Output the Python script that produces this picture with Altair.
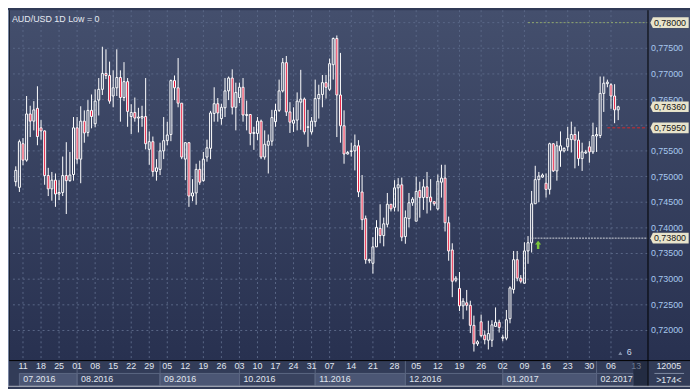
import altair as alt
import pandas as pd

# ---------------- data ----------------
idx = list(range(-1, 167))
opens = [0.7490, 0.7479, 0.7564, 0.7532, 0.7622, 0.7608, 0.7633, 0.7595, 0.7589, 0.7502,
         0.7476, 0.7493, 0.7466, 0.7469, 0.7502, 0.7492, 0.7504, 0.7595, 0.7534, 0.7608,
         0.7586, 0.7629, 0.7603, 0.7649, 0.7670, 0.7701, 0.7697, 0.7657, 0.7673, 0.7693,
         0.7654, 0.7685, 0.7617, 0.7625, 0.7614, 0.7614, 0.7617, 0.7553, 0.7568, 0.7510,
         0.7514, 0.7550, 0.7570, 0.7582, 0.7687, 0.7673, 0.7643, 0.7534, 0.7566, 0.7462,
         0.7468, 0.7514, 0.7492, 0.7538, 0.7555, 0.7623, 0.7642, 0.7613, 0.7634, 0.7667,
         0.7692, 0.7635, 0.7654, 0.7674, 0.7619, 0.7621, 0.7584, 0.7584, 0.7608, 0.7538,
         0.7561, 0.7569, 0.7607, 0.7629, 0.7667, 0.7722, 0.7626, 0.7604, 0.7610, 0.7645,
         0.7651, 0.7596, 0.7587, 0.7607, 0.7652, 0.7660, 0.7683, 0.7670, 0.7718, 0.7769,
         0.7659, 0.7599, 0.7544, 0.7549, 0.7550, 0.7560, 0.7470, 0.7418, 0.7336, 0.7331,
         0.7363, 0.7399, 0.7385, 0.7407, 0.7446, 0.7440, 0.7478, 0.7484, 0.7383, 0.7418,
         0.7449, 0.7413, 0.7473, 0.7459, 0.7480, 0.7460, 0.7451, 0.7437, 0.7489, 0.7497,
         0.7410, 0.7357, 0.7298, 0.7282, 0.7248, 0.7254, 0.7249, 0.7210, 0.7174, 0.7217,
         0.7191, 0.7181, 0.7181, 0.7208, 0.7216, 0.7185, 0.7185, 0.7223, 0.7280, 0.7338,
         0.7302, 0.7292, 0.7355, 0.7371, 0.7447, 0.7494, 0.7499, 0.7487, 0.7475, 0.7564,
         0.7511, 0.7550, 0.7550, 0.7558, 0.7572, 0.7582, 0.7571, 0.7535, 0.7546, 0.7558,
         0.7548, 0.7579, 0.7580, 0.7662, 0.7681, 0.7679, 0.7657, 0.7630]
highs = [0.7520, 0.7572, 0.7575, 0.7657, 0.7638, 0.7647, 0.7676, 0.7610, 0.7590, 0.7517,
         0.7509, 0.7506, 0.7493, 0.7539, 0.7567, 0.7548, 0.7616, 0.7616, 0.7637, 0.7629,
         0.7649, 0.7660, 0.7670, 0.7692, 0.7753, 0.7748, 0.7724, 0.7707, 0.7748, 0.7707,
         0.7723, 0.7692, 0.7641, 0.7654, 0.7634, 0.7638, 0.7692, 0.7588, 0.7578, 0.7534,
         0.7566, 0.7616, 0.7607, 0.7689, 0.7697, 0.7731, 0.7643, 0.7567, 0.7567, 0.7495,
         0.7525, 0.7531, 0.7548, 0.7572, 0.7628, 0.7674, 0.7653, 0.7642, 0.7692, 0.7695,
         0.7709, 0.7683, 0.7683, 0.7692, 0.7648, 0.7621, 0.7597, 0.7616, 0.7611, 0.7590,
         0.7582, 0.7630, 0.7642, 0.7689, 0.7731, 0.7735, 0.7645, 0.7635, 0.7664, 0.7708,
         0.7654, 0.7630, 0.7616, 0.7689, 0.7679, 0.7698, 0.7698, 0.7730, 0.7771, 0.7775,
         0.7741, 0.7629, 0.7550, 0.7566, 0.7582, 0.7571, 0.7503, 0.7424, 0.7340, 0.7382,
         0.7415, 0.7446, 0.7420, 0.7468, 0.7446, 0.7493, 0.7497, 0.7498, 0.7434, 0.7468,
         0.7460, 0.7500, 0.7490, 0.7495, 0.7509, 0.7495, 0.7452, 0.7504, 0.7523, 0.7523,
         0.7422, 0.7370, 0.7306, 0.7314, 0.7263, 0.7279, 0.7258, 0.7229, 0.7181, 0.7231,
         0.7200, 0.7219, 0.7220, 0.7245, 0.7221, 0.7192, 0.7240, 0.7286, 0.7355, 0.7355,
         0.7308, 0.7372, 0.7384, 0.7472, 0.7521, 0.7509, 0.7506, 0.7506, 0.7566, 0.7565,
         0.7569, 0.7588, 0.7557, 0.7597, 0.7607, 0.7597, 0.7588, 0.7566, 0.7552, 0.7569,
         0.7605, 0.7596, 0.7695, 0.7695, 0.7689, 0.7682, 0.7680, 0.7638]
lows = [0.7481, 0.7470, 0.7522, 0.7529, 0.7577, 0.7590, 0.7561, 0.7572, 0.7484, 0.7462,
        0.7453, 0.7441, 0.7454, 0.7462, 0.7427, 0.7490, 0.7492, 0.7525, 0.7487, 0.7566,
        0.7578, 0.7594, 0.7596, 0.7619, 0.7659, 0.7690, 0.7642, 0.7635, 0.7657, 0.7607,
        0.7647, 0.7597, 0.7583, 0.7607, 0.7586, 0.7597, 0.7553, 0.7523, 0.7500, 0.7492,
        0.7503, 0.7534, 0.7561, 0.7569, 0.7649, 0.7635, 0.7534, 0.7493, 0.7441, 0.7452,
        0.7445, 0.7484, 0.7490, 0.7529, 0.7534, 0.7607, 0.7607, 0.7601, 0.7616, 0.7649,
        0.7621, 0.7590, 0.7643, 0.7607, 0.7590, 0.7561, 0.7552, 0.7571, 0.7534, 0.7533,
        0.7506, 0.7560, 0.7597, 0.7626, 0.7664, 0.7618, 0.7585, 0.7587, 0.7590, 0.7591,
        0.7582, 0.7558, 0.7582, 0.7597, 0.7613, 0.7635, 0.7652, 0.7667, 0.7689, 0.7577,
        0.7566, 0.7525, 0.7543, 0.7539, 0.7512, 0.7460, 0.7396, 0.7330, 0.7331, 0.7311,
        0.7363, 0.7370, 0.7364, 0.7401, 0.7432, 0.7432, 0.7432, 0.7374, 0.7369, 0.7401,
        0.7443, 0.7413, 0.7420, 0.7435, 0.7428, 0.7434, 0.7443, 0.7434, 0.7459, 0.7393,
        0.7336, 0.7265, 0.7294, 0.7238, 0.7222, 0.7239, 0.7195, 0.7159, 0.7170, 0.7187,
        0.7173, 0.7163, 0.7168, 0.7208, 0.7196, 0.7179, 0.7181, 0.7214, 0.7272, 0.7296,
        0.7292, 0.7292, 0.7330, 0.7352, 0.7447, 0.7450, 0.7498, 0.7459, 0.7465, 0.7509,
        0.7492, 0.7519, 0.7547, 0.7550, 0.7547, 0.7516, 0.7521, 0.7511, 0.7544, 0.7527,
        0.7544, 0.7548, 0.7575, 0.7626, 0.7674, 0.7632, 0.7604, 0.7610]
closes = [0.7512, 0.7568, 0.7532, 0.7622, 0.7608, 0.7630, 0.7578, 0.7589, 0.7502, 0.7476,
          0.7493, 0.7466, 0.7469, 0.7502, 0.7492, 0.7503, 0.7595, 0.7534, 0.7608, 0.7585,
          0.7629, 0.7617, 0.7647, 0.7670, 0.7701, 0.7697, 0.7647, 0.7673, 0.7693, 0.7654,
          0.7685, 0.7627, 0.7625, 0.7614, 0.7616, 0.7617, 0.7564, 0.7568, 0.7510, 0.7517,
          0.7550, 0.7570, 0.7581, 0.7687, 0.7673, 0.7643, 0.7538, 0.7566, 0.7462, 0.7468,
          0.7514, 0.7489, 0.7534, 0.7556, 0.7624, 0.7642, 0.7624, 0.7635, 0.7667, 0.7692,
          0.7635, 0.7664, 0.7674, 0.7620, 0.7621, 0.7584, 0.7586, 0.7608, 0.7538, 0.7563,
          0.7569, 0.7615, 0.7629, 0.7667, 0.7722, 0.7626, 0.7606, 0.7610, 0.7647, 0.7651,
          0.7587, 0.7597, 0.7608, 0.7652, 0.7660, 0.7683, 0.7674, 0.7720, 0.7769, 0.7659,
          0.7599, 0.7544, 0.7547, 0.7550, 0.7560, 0.7470, 0.7416, 0.7338, 0.7338, 0.7363,
          0.7401, 0.7385, 0.7408, 0.7446, 0.7437, 0.7478, 0.7484, 0.7382, 0.7420, 0.7449,
          0.7456, 0.7471, 0.7459, 0.7480, 0.7459, 0.7451, 0.7447, 0.7491, 0.7497, 0.7410,
          0.7355, 0.7296, 0.7302, 0.7248, 0.7257, 0.7249, 0.7210, 0.7174, 0.7178, 0.7190,
          0.7182, 0.7194, 0.7211, 0.7216, 0.7206, 0.7187, 0.7221, 0.7283, 0.7338, 0.7302,
          0.7296, 0.7355, 0.7371, 0.7447, 0.7494, 0.7501, 0.7503, 0.7475, 0.7564, 0.7511,
          0.7560, 0.7560, 0.7555, 0.7574, 0.7582, 0.7571, 0.7535, 0.7548, 0.7548, 0.7548,
          0.7580, 0.7582, 0.7662, 0.7682, 0.7684, 0.7657, 0.7630, 0.7636]

day_pos = [1, 6, 11, 16, 21, 26, 31, 36, 41, 46, 51, 56, 61, 66, 71, 76, 81, 86,
           92, 98, 104, 110, 116, 122, 128, 134, 140, 146, 152, 158, 164]
day_lab = ["11", "18", "25", "01", "08", "15", "22", "29", "05", "12", "19", "26",
           "03", "10", "17", "24", "31", "07", "14", "21", "28", "05", "12", "19",
           "26", "02", "09", "16", "23", "30", "06"]
cut_day_pos = [171]
cut_day_lab = ["13"]

month_start = [0, 16, 39, 61, 82, 107, 134, 160]
month_end = [16, 39, 61, 82, 107, 134, 160, 170.2]
month_lab = ["07.2016", "08.2016", "09.2016", "10.2016", "11.2016", "12.2016",
             "01.2017", "02.2017"]

# horizontal grid levels
grid_prices = [0.720, 0.725, 0.730, 0.735, 0.740, 0.745, 0.750, 0.755, 0.760,
               0.765, 0.770, 0.775, 0.780]
# price-scale labels that are visible (0,76000 and 0,78000 sit under the marker boxes)
label_prices = [0.720, 0.725, 0.730, 0.735, 0.740, 0.745, 0.750, 0.755,
                0.765, 0.770, 0.775]
label_text = ["0,72000", "0,72500", "0,73000", "0,73500", "0,74000", "0,74500",
              "0,75000", "0,75500", "0,76500", "0,77000", "0,77500"]

marker_prices = [0.7800, 0.7636, 0.7595, 0.7380]
marker_lab = ["0,78000", "0,76360", "0,75950", "0,73800"]

level_prices = [0.7800, 0.7595, 0.7380]
level_start = [141, 163, 142]

arrow_i = [143.8]
arrow_p = [0.7367]

# ---------------- layout ----------------
W, H = 647, 354
TOT_W, TOT_H = 690, 381
FONT = "Liberation Sans"
GRID = "#5a6787"
RED = "#e8193c"

XS = alt.Scale(domain=[-1.787, 172.75], zero=False, nice=False)
YS = alt.Scale(domain=[0.71423, 0.78242], zero=False, nice=False)


def X(f):
    return alt.X(f, type="quantitative", scale=XS, axis=None)


def Y(f):
    return alt.Y(f, type="quantitative", scale=YS, axis=None)


one = pd.DataFrame({"a": [0]})

candles = pd.DataFrame({"i": idx, "o": opens, "hi": highs, "lo": lows, "c": closes})
candles["top"] = candles[["o", "c"]].max(axis=1)
candles["bot"] = candles[["o", "c"]].min(axis=1)

days = pd.DataFrame({"p": day_pos, "lab": day_lab})
cut_days = pd.DataFrame({"p": cut_day_pos, "lab": cut_day_lab})
months = pd.DataFrame({"start": month_start, "end": month_end, "lab": month_lab,
                       "k": list(range(len(month_lab)))})
grid_df = pd.DataFrame({"p": grid_prices})
ticks = pd.DataFrame({"p": label_prices, "lab": label_text})
markers = pd.DataFrame({"p": marker_prices, "lab": marker_lab})
arrow = pd.DataFrame({"i": arrow_i, "p": arrow_p})

grad = alt.LinearGradient(
    gradient="linear",
    stops=[alt.GradientStop(color="#444f6d", offset=0),
           alt.GradientStop(color="#283150", offset=1)],
    x1=0, x2=0, y1=0, y2=1)

layers = []

# background of plot + price scale
layers.append(alt.Chart(one).mark_rect(color=grad).encode(
    x=alt.value(0), x2=alt.value(TOT_W), y=alt.value(0), y2=alt.value(H)))
# bottom strip
layers.append(alt.Chart(one).mark_rect(color="#323c58").encode(
    x=alt.value(0), x2=alt.value(TOT_W), y=alt.value(H), y2=alt.value(TOT_H)))
# month boxes
layers.append(alt.Chart(months).mark_rect(stroke="#5c6783", strokeWidth=1).encode(
    x=X("start"), x2=alt.X2("end"), y=alt.value(367.5), y2=alt.value(380),
    fill=alt.condition(alt.datum.k % 2 == 0, alt.value("#4b5674"), alt.value("#39435f"))))
# dark cut column at the right end of the time scale
layers.append(alt.Chart(pd.DataFrame({"s": [170.2]})).mark_rect(color="#232c42").encode(
    x=X("s"), x2=alt.value(W), y=alt.value(H), y2=alt.value(TOT_H)))
# month separators
layers.append(alt.Chart(months[months["start"] > 0]).mark_rule(color="#5a6581").encode(
    x=X("start"), y=alt.value(H), y2=alt.value(TOT_H)))

# grid
layers.append(alt.Chart(days).mark_rule(color=GRID, strokeDash=[2, 3], strokeWidth=1).encode(
    x=X("p"), y=alt.value(0), y2=alt.value(H)))
layers.append(alt.Chart(grid_df).mark_rule(color=GRID, strokeDash=[2, 3], strokeWidth=1).encode(
    y=Y("p"), x=alt.value(0), x2=alt.value(W)))

# candles
layers.append(alt.Chart(candles).mark_rule(color="white", strokeWidth=1).encode(
    x=X("i"), y=Y("hi"), y2=alt.Y2("top")))
layers.append(alt.Chart(candles).mark_rule(color="white", strokeWidth=1).encode(
    x=X("i"), y=Y("bot"), y2=alt.Y2("lo")))
layers.append(alt.Chart(candles).mark_bar(size=2, stroke="white", strokeWidth=1).encode(
    x=X("i"), y=Y("top"), y2=alt.Y2("bot"),
    fill=alt.condition(alt.datum.c < alt.datum.o, alt.value(RED), alt.value("transparent"))))

# level lines
lvl_cols = ["#8fa66a", "#d42a2a", "#d0d4dc"]
lvl_dash = [[2, 2], [3, 2], [2, 1]]
for p, s, col, d in zip(level_prices, level_start, lvl_cols, lvl_dash):
    layers.append(alt.Chart(pd.DataFrame({"p": [p], "s": [s]})).mark_rule(
        color=col, strokeDash=d, strokeWidth=1).encode(
        x=X("s"), x2=alt.value(W), y=Y("p")))

# green arrow
layers.append(alt.Chart(arrow).mark_point(
    shape="M 0 -1 L 0.75 -0.1 L 0.3 -0.1 L 0.3 1 L -0.3 1 L -0.3 -0.1 L -0.75 -0.1 Z",
    size=70, filled=True, fill="#7cc63c", opacity=1, strokeWidth=0).encode(
    x=X("i"), y=Y("p")))

# price scale labels
layers.append(alt.Chart(ticks).mark_text(
    align="left", baseline="middle", font=FONT, fontSize=9, color="#a8c8ee").encode(
    x=alt.value(650.5), y=Y("p"), text="lab:N"))

# price markers (boxes with arrow)
layers.append(alt.Chart(markers).mark_point(
    shape="M -0.97 0 L -0.84 -0.27 L 0.97 -0.27 L 0.97 0.27 L -0.84 0.27 Z",
    size=1600, filled=True, fill="#e8e4cc", stroke="#9d9a84", strokeWidth=0.05,
    opacity=1).encode(x=alt.value(669.25), y=Y("p")))
layers.append(alt.Chart(markers).mark_text(
    align="left", baseline="middle", font=FONT, fontSize=9, color="#161616").encode(
    x=alt.value(653.5), y=Y("p"), text="lab:N"))

# time labels
layers.append(alt.Chart(days).mark_text(
    align="center", baseline="middle", font=FONT, fontSize=9, color="#e0e6ef").encode(
    x=X("p"), y=alt.value(360.5), text="lab:N"))
layers.append(alt.Chart(cut_days).mark_text(
    align="center", baseline="middle", font=FONT, fontSize=9, color="#6e7a92").encode(
    x=X("p"), y=alt.value(360.5), text="lab:N"))
layers.append(alt.Chart(months).mark_text(
    align="left", baseline="middle", dx=4, font=FONT, fontSize=9, color="#e0e6ef").encode(
    x=X("start"), y=alt.value(373.5), text="lab:N"))

# frame lines
layers.append(alt.Chart(one).mark_rule(color="#000000", strokeWidth=1).encode(
    x=alt.value(0), x2=alt.value(TOT_W), y=alt.value(H + 0.5)))
layers.append(alt.Chart(one).mark_rule(color="#000000", strokeWidth=1).encode(
    x=alt.value(W + 0.5), y=alt.value(0), y2=alt.value(TOT_H)))
layers.append(alt.Chart(one).mark_rule(color="#7a88a4", strokeWidth=1).encode(
    x=alt.value(0.5), y=alt.value(0), y2=alt.value(TOT_H)))
layers.append(alt.Chart(one).mark_rule(color="#1e2436", strokeWidth=1).encode(
    x=alt.value(1.5), y=alt.value(0), y2=alt.value(H)))
layers.append(alt.Chart(one).mark_rule(color="#b4b8c2", strokeWidth=1).encode(
    x=alt.value(0), x2=alt.value(TOT_W), y=alt.value(TOT_H - 0.5)))

# title and small texts
layers.append(alt.Chart(one).mark_text(
    text="AUD/USD 1D Low = 0", align="left", baseline="middle", font=FONT,
    fontSize=9, color="#e6eaf2").encode(x=alt.value(4), y=alt.value(8.5)))
layers.append(alt.Chart(one).mark_text(
    text="6", align="left", baseline="middle", font=FONT, fontSize=9,
    color="#c8d6ea").encode(x=alt.value(626), y=alt.value(345.5)))
layers.append(alt.Chart(one).mark_point(
    shape="triangle-up", size=16, filled=True, fill="#7e8aa4", opacity=1,
    strokeWidth=0).encode(x=alt.value(619.5), y=alt.value(347)))
layers.append(alt.Chart(one).mark_text(
    text="12005", align="center", baseline="middle", font=FONT, fontSize=9,
    color="#e0e6ef").encode(x=alt.value(668.5), y=alt.value(360.5)))
layers.append(alt.Chart(one).mark_rule(color="#7e8aa2", strokeWidth=1).encode(
    x=alt.value(654), x2=alt.value(684), y=alt.value(367.5)))
layers.append(alt.Chart(one).mark_text(
    text=">174<", align="center", baseline="middle", font=FONT, fontSize=9,
    color="#e0e6ef").encode(x=alt.value(668.5), y=alt.value(374)))

chart = alt.layer(*layers).properties(
    width=W, height=H,
    autosize=alt.AutoSizeParams(type="none"),
    padding={"left": 0, "top": 0, "right": TOT_W - W, "bottom": TOT_H - H},
    background="#303a56",
).configure_view(stroke=None)

chart.save("out.html", embed_options={"renderer": "svg", "actions": False})
